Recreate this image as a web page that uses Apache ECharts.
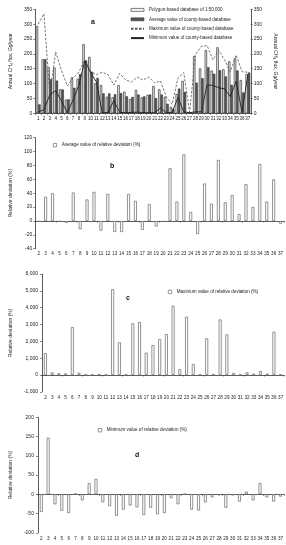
<!DOCTYPE html>
<html>
<head>
<meta charset="utf-8">
<script src="https://cdn.jsdelivr.net/npm/echarts@6/dist/echarts.min.js"></script>
<style>
  html, body { margin: 0; padding: 0; background: #fff; }
  #chart { width: 286px; height: 545px; }
</style>
</head>
<body>
<div id="chart"></div>
<script>
// panel a: annual CH4 flux by region (1..37)
const catsA = ['1','2','3','4','5','6','7','8','9','10','11','12','13','14','15','16','17','18','19',
  '20','21','22','23','24','25','26','27','28','29','30','31','32','33','34','35','36','37']
const polygonDb = [294, 182, 155, 154, 81, 46, 121, 116, 233, 190, 101, 95, 56, 54, 95, 73, 48, 79, 54,
  62, 92, 81, 56, 22, 65, 109, 4, 193, 151, 213, 144, 222, 148, 175, 185, 112, 132]
const countyAvg = [30, 182, 115, 110, 80, 47, 86, 132, 178, 140, 119, 67, 67, 64, 68, 57, 55, 63, 57,
  63, 51, 63, 32, 15, 83, 72, 3, 103, 118, 155, 133, 145, 124, 96, 144, 70, 137]
const countyMax = [300, 335, 63, 207, 145, 92, 119, 139, 181, 140, 130, 138, 130, 95, 134, 113, 105, 122, 112,
  122, 102, 109, 55, 30, 118, 137, 4, 197, 225, 228, 180, 212, 180, 140, 196, 140, 138]
const countyMin = [5, 12, 62, 76, 42, 2, 45, 95, 176, 138, 105, 2, 3, 43, 3, 2, 3, 4, 2,
  2, 2, 18, 2, 3, 53, 5, 2, 5, 5, 95, 94, 86, 82, 56, 108, 4, 130]

// panels b-d: relative deviation, regions 2..37
const catsB = ['2','3','4','5','6','7','8','9','10','11','12','13','14','15','16','17','18','19',
  '20','21','22','23','24','25','26','27','28','29','30','31','32','33','34','35','36','37']
const devAvg = [-1, 35, 40, -1, -3, 41, -12, 31, 42, -14, 39, -16, -16, 39, 29, -13, 24.5, -8,
  -1, 76, 28, 96, 13, -19, 54, 25, 88, 27, 37.5, 10, 53, 20, 82, 28, 60, -4]
const devMax = [1300, 150, 100, 90, 2850, 130, 15, 20, 40, 10, 5100, 1940, 20, 3070, 3150, 1330, 1780, 2140,
  2435, 4120, 340, 3465, 650, 30, 2180, 60, 3300, 2415, 120, 40, 160, 80, 240, 80, 2575, 20]
const devMin = [-46, 147, -26, -43, -49, 2, -16, 29, 40, -21, -31, -56, -40, -29, -34, -54, -35, -52,
  -49, -10, -26, 1, -40, -42, -21, -8, -3, -35, -3, -19, 7, -16, 29, -8, -19, -6]

// axis ranges [min, max, step]
const axisA = [0, 350, 50]
const axisB = [-40, 120, 20]
const axisC = [-1000, 6000, 1000]
const axisD = [-100, 200, 50]

const FONT = '"Liberation Sans", Arial, sans-serif'
const INK = '#333'
const fluxName = 'Annual CH\u2084 flux, Gg/year'
const devName = 'Relative deviation (%)'

const chart = echarts.init(document.getElementById('chart'))

const txt = (size) => ({ fontSize: size, fontFamily: FONT, color: '#222' })

const valueAxis = (gridIndex, range, opts) => ({
  type: 'value',
  gridIndex,
  min: range[0],
  max: range[1],
  interval: range[2],
  splitLine: { show: false },
  axisLine: { show: true, onZero: false, lineStyle: { color: INK, width: 0.8 } },
  axisTick: { show: true, length: 2, lineStyle: { color: INK, width: 0.6 } },
  axisLabel: { ...txt(5), margin: 3 },
  nameLocation: 'middle',
  nameTextStyle: txt(5),
  ...opts,
})

const labelAxis = (gridIndex) => ({
  type: 'category',
  gridIndex,
  data: catsB,
  position: 'bottom',
  axisLine: { show: false, onZero: false },
  axisTick: { show: false },
  axisLabel: { ...txt(4.6), interval: 0, margin: 3 },
})

const zeroAxis = (gridIndex) => ({
  type: 'category',
  gridIndex,
  data: catsB,
  position: 'top',
  axisLine: { show: true, onZero: true, lineStyle: { color: INK, width: 0.8 } },
  axisTick: { show: true, inside: true, length: 1.5, lineStyle: { color: INK, width: 0.6 } },
  axisLabel: { show: false },
})

const devBar = (name, data, xi, yi) => ({
  name,
  type: 'bar',
  data,
  xAxisIndex: xi,
  yAxisIndex: yi,
  barWidth: 3,
  itemStyle: { color: '#fff', borderColor: '#777', borderWidth: 0.8 },
})

const devLegend = (name, left, top) => ({
  data: [{ name, icon: 'rect', itemStyle: { color: '#fff', borderColor: '#555', borderWidth: 0.6 } }],
  left,
  top,
  padding: 0,
  itemWidth: 3.4,
  itemHeight: 3.4,
  selectedMode: false,
  textStyle: txt(4.6),
})

const tag = (text, left, top) => ({
  text, left, top, padding: 0,
  textStyle: { fontSize: 7, fontWeight: 'bold', fontFamily: FONT, color: '#111' },
})

chart.setOption({
  animation: false,
  backgroundColor: '#fff',
  title: [tag('a', 91, 18.5), tag('b', 110, 162.5), tag('c', 126, 294.5), tag('d', 135, 451.5)],
  grid: [
    { left: 19, top: 9.3, width: 244, height: 104 },
    { left: 19, top: 137.7, width: 265, height: 111 },
    { left: 25, top: 274, width: 259, height: 117.8 },
    { left: 22.4, top: 417.3, width: 261.5, height: 115.5 },
  ],
  legend: [
    {
      left: 130,
      top: 7.4,
      orient: 'vertical',
      padding: 0,
      itemWidth: 13,
      itemHeight: 3,
      itemGap: 4.4,
      selectedMode: false,
      textStyle: txt(4.5),
      data: [
        { name: 'Polygon-based database of 1:50,000', icon: 'rect',
          itemStyle: { color: '#f4f4f4', borderColor: '#333', borderWidth: 0.6 } },
        { name: 'Average value of county-based database', icon: 'rect',
          itemStyle: { color: '#585858', borderColor: '#222', borderWidth: 0.5 } },
        { name: 'Maximum value of county-based database', itemStyle: { opacity: 0 } },
        { name: 'Minimum value of county-based database', itemStyle: { opacity: 0 } },
      ],
    },
    devLegend('Average value of relative deviation (%)', 53, 142.7),
    devLegend('Maximum value of relative deviation (%)', 168, 289.4),
    devLegend('Minimum value of relative deviation (%)', 98, 427.7),
  ],
  xAxis: [
    {
      type: 'category',
      gridIndex: 0,
      data: catsA,
      axisLine: { lineStyle: { color: INK, width: 0.8 } },
      axisTick: { show: true, length: 1.5, lineStyle: { color: INK, width: 0.6 } },
      axisLabel: { ...txt(4.5), interval: 0, margin: 3 },
    },
    labelAxis(1), zeroAxis(1),
    labelAxis(2), zeroAxis(2),
    labelAxis(3), zeroAxis(3),
  ],
  yAxis: [
    valueAxis(0, axisA, { position: 'left', name: fluxName, nameGap: 12 }),
    valueAxis(0, axisA, { position: 'right', name: fluxName, nameGap: 16, nameRotate: -90 }),
    valueAxis(1, axisB, { name: devName, nameGap: 13 }),
    valueAxis(2, axisC, { name: devName, nameGap: 19, axisLabel: { ...txt(5), margin: 4 } }),
    valueAxis(3, axisD, { name: devName, nameGap: 17, axisLabel: { ...txt(5), margin: 4 } }),
  ],
  series: [
    {
      name: 'Polygon-based database of 1:50,000',
      type: 'bar',
      data: polygonDb,
      xAxisIndex: 0,
      yAxisIndex: 0,
      barWidth: 2.4,
      barGap: '0%',
      itemStyle: { color: '#f2f2f2', borderColor: '#333', borderWidth: 0.7 },
    },
    {
      name: 'Average value of county-based database',
      type: 'bar',
      data: countyAvg,
      xAxisIndex: 0,
      yAxisIndex: 0,
      barWidth: 2.4,
      barGap: '0%',
      itemStyle: { color: '#585858', borderColor: '#222', borderWidth: 0.5 },
    },
    {
      name: 'Maximum value of county-based database',
      type: 'line',
      data: countyMax,
      xAxisIndex: 0,
      yAxisIndex: 0,
      symbol: 'none',
      itemStyle: { color: '#555' },
      lineStyle: { color: '#555', width: 0.8, type: [2.5, 1.5] },
    },
    {
      name: 'Minimum value of county-based database',
      type: 'line',
      data: countyMin,
      xAxisIndex: 0,
      yAxisIndex: 0,
      symbol: 'none',
      itemStyle: { color: '#222' },
      lineStyle: { color: '#222', width: 0.9 },
    },
    devBar('Average value of relative deviation (%)', devAvg, 1, 2),
    devBar('Maximum value of relative deviation (%)', devMax, 3, 3),
    devBar('Minimum value of relative deviation (%)', devMin, 5, 4),
  ],
})
</script>
</body>
</html>
